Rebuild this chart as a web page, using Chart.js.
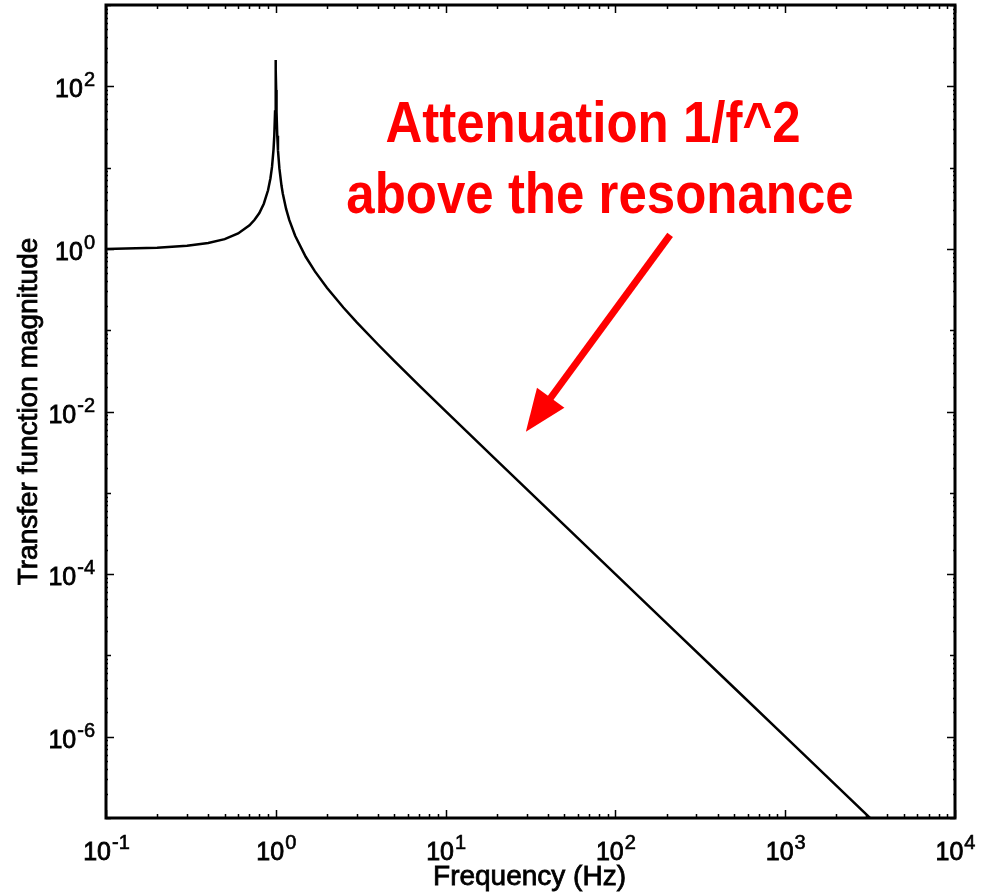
<!DOCTYPE html>
<html>
<head>
<meta charset="utf-8">
<title>Transfer function magnitude</title>
<script src="https://cdn.jsdelivr.net/npm/chart.js@4/dist/chart.umd.min.js"></script>
<style>
  html, body { margin: 0; padding: 0; background: #fff; }
  #wrap { width: 986px; height: 896px; position: relative; }
</style>
</head>
<body>
<div id="wrap"><canvas id="tf"></canvas></div>
<script>
// Frequency response of the resonator (Hz -> |H|)
const freqHz = [0.1, 0.15, 0.2, 0.3, 0.4, 0.5, 0.6, 0.7, 0.75, 0.8, 0.85, 0.9, 0.93, 0.95,
  0.97, 0.98, 0.99, 0.995, 0.998, 1.0, 1.002, 1.005, 1.01, 1.02, 1.03, 1.05, 1.08, 1.1,
  1.15, 1.2, 1.3, 1.5, 1.7, 2, 2.5, 3, 4, 5, 7, 10, 20, 50, 100, 200, 500, 1000, 2000, 5000];
const magnitude = [1.0, 1.015, 1.035, 1.09, 1.18, 1.32, 1.55, 1.95, 2.28, 2.76, 3.6, 5.26, 7.4, 10.2,
  16.9, 25.1, 48.9, 90.6, 161, 210, 161, 90, 48.5, 24.6, 16.3, 9.76, 6.01, 4.76,
  3.1, 2.27, 1.45, 0.8, 0.529, 0.333, 0.19, 0.125, 0.0667, 0.0417, 0.0208, 0.0101, 0.00251, 4.0e-4, 1.0e-4, 2.5e-5, 4.0e-6, 1.0e-6, 2.5e-7, 4.0e-8];

// axis decades and their printed exponents
const xTickValues = [0.1, 1, 10, 100, 1000, 10000];
const xTickExponents = ['-1', '0', '1', '2', '3', '4'];
const yTickValues = [1e2, 1, 1e-2, 1e-4, 1e-6];
const yTickExponents = ['2', '0', '-2', '-4', '-6'];

const noteLines = ['Attenuation 1/f^2', 'above the resonance'];
// arrow from the note down to the 1/f^2 slope, in data units
const arrowFrom = { x: 210, y: 1.49 };
const arrowTo = { x: 29.7, y: 5.65e-3 };

const FONT = '"Liberation Sans", Arial, Helvetica, sans-serif';

// heavier text, like the plotter output
function boldish(ctx, text, x, y, w) {
  ctx.fillText(text, x, y);
  ctx.lineWidth = w;
  ctx.strokeText(text, x, y);
}

function powerLabel(ctx, base, exp, x, y, size, align) {
  const expSize = Math.round(size * 0.78);
  ctx.font = size + 'px ' + FONT;
  const wb = ctx.measureText(base).width;
  ctx.font = expSize + 'px ' + FONT;
  const we = ctx.measureText(exp).width;
  let start = x;
  if (align === 'center') start = x - (wb + we) / 2;
  if (align === 'right') start = x - (wb + we);
  ctx.textAlign = 'left';
  ctx.textBaseline = 'alphabetic';
  ctx.font = size + 'px ' + FONT;
  boldish(ctx, base, start, y, 0.8);
  ctx.font = expSize + 'px ' + FONT;
  boldish(ctx, exp, start + wb + 1, y - 11, 0.6);
}

const framePlugin = {
  id: 'frame',
  afterDraw(chart) {
    const { ctx, chartArea: a, scales } = chart;
    const xs = scales.x, ys = scales.y;
    ctx.save();
    ctx.strokeStyle = '#000';
    ctx.fillStyle = '#000';

    // inward tick marks on all four sides
    ctx.lineWidth = 1.5;
    ctx.beginPath();
    for (let e = -1; e <= 4; e++) {
      for (let k = 1; k <= 9; k++) {
        if (e === 4 && k > 1) break;
        const px = Math.round(xs.getPixelForValue(k * Math.pow(10, e))) + 0.5;
        const len = k === 1 ? 8 : 4;
        ctx.moveTo(px, a.bottom); ctx.lineTo(px, a.bottom - len);
        ctx.moveTo(px, a.top); ctx.lineTo(px, a.top + len);
      }
    }
    for (let e = -7; e <= 3; e++) {
      for (let k = 1; k <= 9; k++) {
        if (e === 3 && k > 1) break;
        const py = Math.round(ys.getPixelForValue(k * Math.pow(10, e))) + 0.5;
        const len = k === 1 ? (e % 2 === 0 ? 8 : 5) : 2;
        ctx.moveTo(a.left, py); ctx.lineTo(a.left + len, py);
        ctx.moveTo(a.right, py); ctx.lineTo(a.right - len, py);
      }
    }
    ctx.stroke();

    // box
    ctx.lineWidth = 3;
    ctx.strokeRect(a.left, a.top, a.right - a.left, a.bottom - a.top);

    // tick labels
    xTickValues.forEach((v, i) => {
      powerLabel(ctx, '10', xTickExponents[i], xs.getPixelForValue(v), a.bottom + 42, 25, 'center');
    });
    yTickValues.forEach((v, i) => {
      powerLabel(ctx, '10', yTickExponents[i], a.left - 12, ys.getPixelForValue(v) + 11, 25, 'right');
    });

    // axis titles
    ctx.font = '28px ' + FONT;
    ctx.textAlign = 'center';
    ctx.textBaseline = 'alphabetic';
    boldish(ctx, 'Frequency (Hz)', (a.left + a.right) / 2 - 1, a.bottom + 67, 0.8);
    ctx.save();
    ctx.translate(37, (a.top + a.bottom) / 2);
    ctx.rotate(-Math.PI / 2);
    boldish(ctx, 'Transfer function magnitude', 0, 0, 0.8);
    ctx.restore();

    // red note
    ctx.fillStyle = '#ff0000';
    ctx.font = 'bold 51px ' + FONT;
    ctx.textAlign = 'center';
    const noteX = [a.left + 487, a.left + 494];
    const noteY = [a.top + 137, a.top + 208];
    noteLines.forEach((t, i) => {
      ctx.save();
      ctx.translate(noteX[i], noteY[i]);
      ctx.scale(1, 1.12);
      ctx.fillText(t, 0, 0);
      ctx.restore();
    });

    // arrow
    const x0 = xs.getPixelForValue(arrowFrom.x), y0 = ys.getPixelForValue(arrowFrom.y);
    const x1 = xs.getPixelForValue(arrowTo.x), y1 = ys.getPixelForValue(arrowTo.y);
    const dx = x1 - x0, dy = y1 - y0, L = Math.hypot(dx, dy);
    const ux = dx / L, uy = dy / L;
    const headLen = 42, headHalf = 17;
    const bx = x1 - ux * headLen, by = y1 - uy * headLen;
    ctx.strokeStyle = '#ff0000';
    ctx.lineWidth = 7;
    ctx.lineCap = 'butt';
    ctx.beginPath();
    ctx.moveTo(x0, y0);
    ctx.lineTo(bx + ux * 4, by + uy * 4);
    ctx.stroke();
    ctx.beginPath();
    ctx.moveTo(x1, y1);
    ctx.lineTo(bx - uy * headHalf, by + ux * headHalf);
    ctx.lineTo(bx + uy * headHalf, by - ux * headHalf);
    ctx.closePath();
    ctx.fill();

    ctx.restore();
  }
};

new Chart(document.getElementById('tf').getContext('2d'), {
  type: 'scatter',
  data: {
    datasets: [{
      data: freqHz.map((f, i) => ({ x: f, y: magnitude[i] })),
      showLine: true,
      borderColor: '#000',
      borderWidth: 2.5,
      pointRadius: 0,
      tension: 0
    }]
  },
  options: {
    responsive: true,
    maintainAspectRatio: false,
    animation: false,
    events: [],
    layout: { padding: { left: 106, right: 31, top: 5, bottom: 78 } },
    plugins: { legend: { display: false }, tooltip: { enabled: false } },
    scales: {
      x: { type: 'logarithmic', min: 0.1, max: 10000, display: false },
      y: { type: 'logarithmic', min: 1e-7, max: 1e3, display: false }
    }
  },
  plugins: [framePlugin]
});
</script>
</body>
</html>
